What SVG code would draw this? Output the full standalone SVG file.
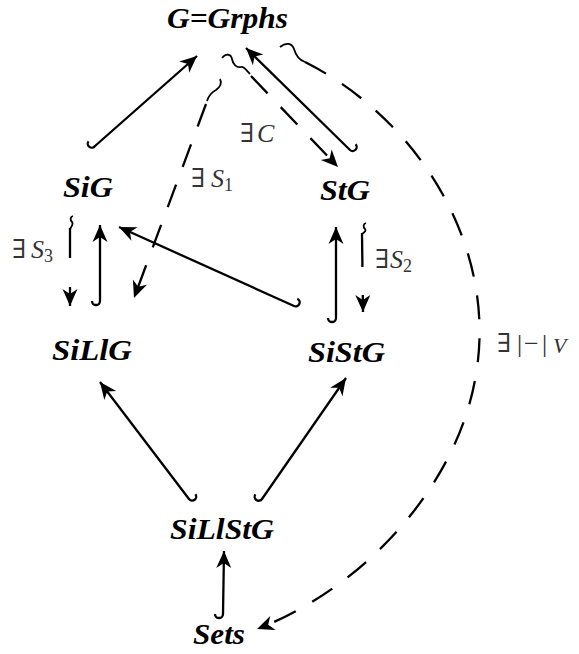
<svg xmlns="http://www.w3.org/2000/svg" width="579" height="654" viewBox="0 0 579 654">
<style>
.node{font-family:"Liberation Serif","Times New Roman",serif;font-weight:bold;font-style:italic;font-size:29px;fill:#000}
.lbl{font-family:"Liberation Serif","DejaVu Serif",serif;font-size:26px;fill:#333}
.it{font-style:italic}
.c{fill:none;stroke:#000;stroke-width:2.3;stroke-linecap:butt;stroke-linejoin:round}
.d{stroke-dasharray:24 19}
.sq{fill:none;stroke:#000;stroke-width:1.8}
</style>
<defs>
<marker id="ah" viewBox="-18 -9 19 18" refX="0" refY="0" markerWidth="19" markerHeight="18" markerUnits="userSpaceOnUse" orient="auto">
<path d="M0,0 L-17,-7.5 L-12,0 L-17,7.5 Z" fill="#000"/>
</marker>
</defs>
<rect width="579" height="654" fill="#fff"/>
<g id="connectors">
<path class="c" d="M88.5,141.3 A4,4 0 0 0 95,146 L197,56" marker-end="url(#ah)"/>
<path class="c" d="M355.6,144.3 A4,4 0 0 1 350,150 L246,48" marker-end="url(#ah)"/>
<path class="c" d="M92,301 A4,4 0 0 0 100,301 L100,225" marker-end="url(#ah)"/>
<path class="c" d="M297.3,298.7 A4,4 0 0 1 294,306 L119,227" marker-end="url(#ah)"/>
<path class="c" d="M328,318 A4,4 0 0 0 336,318 L336,227" marker-end="url(#ah)"/>
<path class="c" d="M195.4,494.2 A4,4 0 0 1 189,499 L100,382" marker-end="url(#ah)"/>
<path class="c" d="M255.4,494.4 A4,4 0 0 0 262,499 L346,378" marker-end="url(#ah)"/>
<path class="c" d="M215,614 A4,4 0 0 0 223,614 L224,551" marker-end="url(#ah)"/>
<path class="sq" d="M222,58 C226,53 231,54 232,59 C233,65 237,68 241,67 C244,66 246,70 250,74"/>
<path class="c d" d="M251,76 L338,167" marker-end="url(#ah)"/>
<path class="sq" d="M220,79 C222,83 220,87 216,90 C212,92 209,95 207,101"/>
<path class="c d" d="M206,104 L134,298" marker-end="url(#ah)"/>
<path class="sq" d="M280,47 C286,42 292,43 294,49 C296,56 299,60 305,62"/>
<path class="c d" d="M305,62 C420,120 500,250 475,380 C455,490 360,590 257,629" marker-end="url(#ah)"/>
<path class="sq" d="M73,216 C70,217 70,220 72,222 C74,224 71,227 70,229"/>
<path class="c" style="stroke-dasharray:30 29" d="M70,228 L70,306" marker-end="url(#ah)"/>
<path class="sq" d="M366,223 C363,224 363,227 365,229 C367,231 363,233 362,234"/>
<path class="c" style="stroke-dasharray:34 28" d="M362,233 L363,312" marker-end="url(#ah)"/>
</g>
<g id="n-G"><text class="node" x="167" y="28" textLength="121" lengthAdjust="spacingAndGlyphs">G=Grphs</text></g>
<g id="n-SiG"><text class="node" x="63" y="197" textLength="50" lengthAdjust="spacingAndGlyphs">SiG</text></g>
<g id="n-StG"><text class="node" x="320" y="200" textLength="50" lengthAdjust="spacingAndGlyphs">StG</text></g>
<g id="n-SiLlG"><text class="node" x="52" y="360" textLength="80" lengthAdjust="spacingAndGlyphs">SiLlG</text></g>
<g id="n-SiStG"><text class="node" x="308" y="362" textLength="77" lengthAdjust="spacingAndGlyphs">SiStG</text></g>
<g id="n-SiLlStG"><text class="node" x="170" y="539" textLength="104" lengthAdjust="spacingAndGlyphs">SiLlStG</text></g>
<g id="n-Sets"><text class="node" x="193" y="644" textLength="52" lengthAdjust="spacingAndGlyphs">Sets</text></g>
<g id="labels">
<text class="lbl" x="240" y="142">∃<tspan class="it" x="257">C</tspan></text>
<text class="lbl" x="191" y="187">∃<tspan class="it" x="211">S</tspan><tspan font-size="18" dy="4">1</tspan></text>
<text class="lbl" x="12" y="258">∃<tspan class="it" x="31">S</tspan><tspan font-size="18" dy="4">3</tspan></text>
<text class="lbl" x="375" y="268">∃<tspan class="it" x="390">S</tspan><tspan font-size="18" dy="4">2</tspan></text>
<text class="lbl" x="497" y="352">∃<tspan x="517">|</tspan><tspan x="524">−</tspan><tspan x="542">|</tspan><tspan class="it" x="553" font-size="22" dy="1">V</tspan></text>
</g>
</svg>
